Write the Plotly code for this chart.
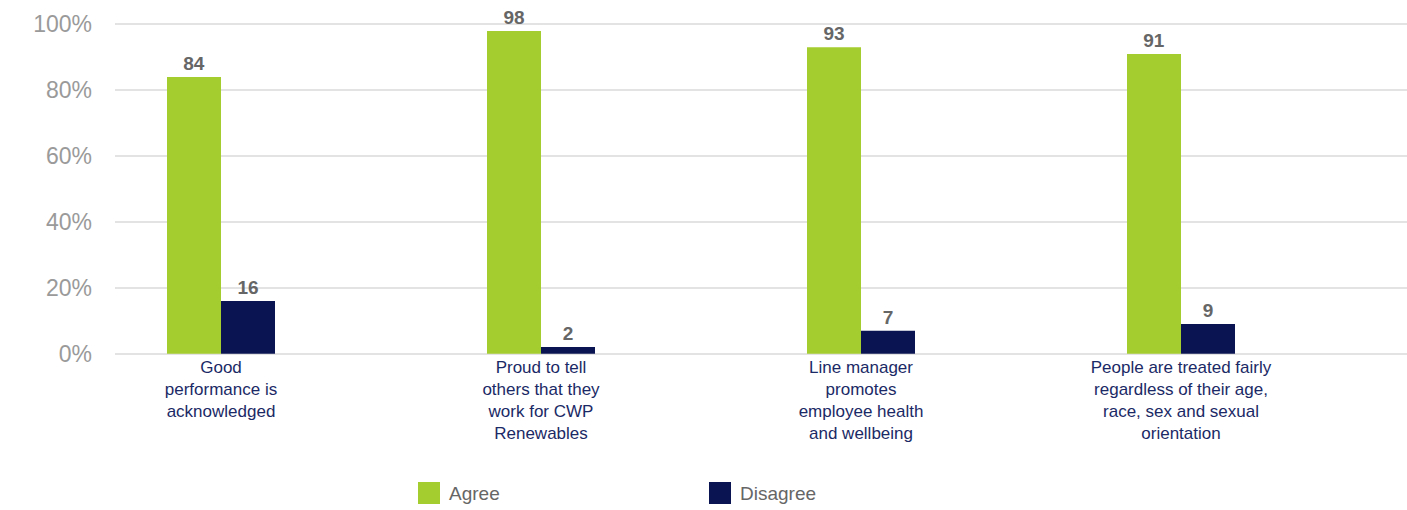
import plotly.graph_objects as go

categories = [
    "Good<br>performance is<br>acknowledged",
    "Proud to tell<br>others that they<br>work for CWP<br>Renewables",
    "Line manager<br>promotes<br>employee health<br>and wellbeing",
    "People are treated fairly<br>regardless of their age,<br>race, sex and sexual<br>orientation",
]
agree = [84, 98, 93, 91]
disagree = [16, 2, 7, 9]
series_names = ["Agree", "Disagree"]
colors = ["#a4cd2f", "#0b1452"]
ytick_vals = [0, 20, 40, 60, 80, 100]
ytick_text = ["0%", "20%", "40%", "60%", "80%", "100%"]

W, H = 1407, 510
ML, MR, MT, MB = 115, 0, 23, 155
Y0, Y1 = -0.4, 100.4

xpos = list(range(len(categories)))

fig = go.Figure()
for name, vals, col in zip(series_names, [agree, disagree], colors):
    fig.add_trace(go.Bar(
        x=xpos, y=vals, name=name, marker=dict(color=col, line=dict(width=0)),
        text=[str(v) for v in vals], textposition="outside",
        textfont=dict(family="Liberation Sans, Arial", size=19, color="#666666"),
        texttemplate="<b>%{text}</b>", cliponaxis=False, showlegend=False,
    ))

# custom legend (large square swatches)
plot_h = H - MT - MB
plot_w = W - ML - MR
leg_x = [418, 709]
for name, col, lx in zip(series_names, colors, leg_x):
    fig.add_shape(type="rect", xref="paper", yref="paper",
                  x0=(lx - ML) / plot_w, x1=(lx + 22 - ML) / plot_w,
                  y0=-((482 + 22) - (H - MB)) / plot_h,
                  y1=-(482 - (H - MB)) / plot_h,
                  fillcolor=col, line=dict(width=0))
    fig.add_annotation(xref="paper", yref="paper", x=(lx + 29 - ML) / plot_w,
                       y=-(494 - (H - MB)) / plot_h, text=name, showarrow=False,
                       xanchor="left", yanchor="middle",
                       font=dict(family="Liberation Sans, Arial", size=19, color="#666666"))

fig.update_layout(
    width=W, height=H,
    margin=dict(l=ML, r=MR, t=MT, b=MB, pad=0),
    paper_bgcolor="white", plot_bgcolor="white",
    barmode="group", bargap=0.6625, bargroupgap=0,
    showlegend=False,
    xaxis=dict(
        tickmode="array", tickvals=xpos, ticktext=categories,
        range=[(ML - 221) / 320, (W - MR - 221) / 320],
        showgrid=False, zeroline=False, showline=False, ticks="",
        tickfont=dict(family="Liberation Sans, Arial", size=17, color="#1b2a66"),
    ),
    yaxis=dict(
        range=[Y0, Y1], tickvals=ytick_vals, ticktext=ytick_text,
        showgrid=True, gridcolor="#e3e3e3", gridwidth=2,
        zeroline=False, showline=False, ticks="",
        ticklabelstandoff=22,
        tickfont=dict(family="Liberation Sans, Arial", size=23, color="#9a9a9a"),
    ),
)

fig.write_html("out.html")
